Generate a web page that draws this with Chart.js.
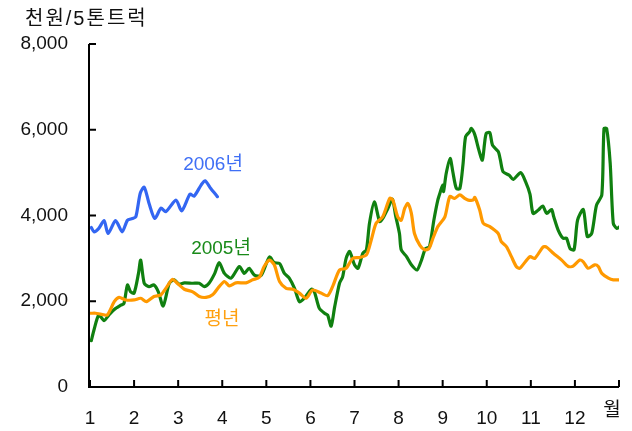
<!DOCTYPE html>
<html>
<head>
<meta charset="utf-8">
<script src="https://cdn.jsdelivr.net/npm/chart.js@4.4.1/dist/chart.umd.min.js"></script>
<style>
  html, body { margin: 0; padding: 0; background: #fff; }
  #wrap { width: 632px; height: 431px; }
</style>
</head>
<body>
<div id="wrap"><canvas id="chart"></canvas></div>
<script>
// 가격 데이터 (x = 월, y = 천원/5톤트럭)
const months2006 = [1.03, 1.09, 1.20, 1.32, 1.41, 1.58, 1.73, 1.85, 1.96, 2.04, 2.14, 2.23, 2.34, 2.47, 2.61, 2.72, 2.95, 3.08, 3.27, 3.36, 3.52, 3.61, 3.74, 3.89];
const values2006 = [3720, 3620, 3700, 3880, 3580, 3880, 3620, 3890, 3930, 3970, 4520, 4660, 4280, 3930, 4170, 4090, 4360, 4110, 4500, 4450, 4710, 4810, 4630, 4440];

const months2005 = [1.03, 1.09, 1.20, 1.32, 1.43, 1.55, 1.70, 1.77, 1.85, 1.92, 2.00, 2.10, 2.15, 2.23, 2.34, 2.45, 2.55, 2.66, 2.80, 2.91,
  3.02, 3.14, 3.33, 3.48, 3.59, 3.70, 3.83, 3.93, 4.05, 4.20, 4.39, 4.50, 4.61, 4.73, 4.88, 5.07, 5.18, 5.30, 5.41, 5.52,
  5.64, 5.75, 5.86, 6.02, 6.09, 6.20, 6.32, 6.39, 6.47, 6.55, 6.66, 6.73, 6.81, 6.89, 7.00, 7.08, 7.19, 7.27, 7.34, 7.45,
  7.57, 7.64, 7.76, 7.86, 7.93, 8.02, 8.06, 8.18, 8.29, 8.42, 8.52, 8.61, 8.70, 8.80, 8.89, 8.95, 9.00, 9.02, 9.08, 9.17,
  9.23, 9.31, 9.39, 9.46, 9.52, 9.61, 9.65, 9.73, 9.82, 9.90, 9.95, 9.99, 10.07, 10.13, 10.26, 10.31, 10.37, 10.51, 10.60, 10.77,
  10.88, 10.98, 11.05, 11.17, 11.27, 11.36, 11.47, 11.52, 11.62, 11.73, 11.81, 11.89, 11.98, 12.06, 12.19, 12.28, 12.38, 12.49, 12.61, 12.66,
  12.72, 12.80, 12.87, 12.95, 13.02];
const values2005 = [1080, 1330, 1680, 1550, 1680, 1810, 1910, 1950, 2380, 2220, 2190, 2650, 2960, 2420, 2340, 2380, 2220, 1890, 2420, 2500,
  2400, 2430, 2420, 2420, 2340, 2420, 2650, 2900, 2650, 2540, 2810, 2650, 2770, 2610, 2600, 3030, 2900, 2880, 2650, 2540,
  2300, 1990, 2070, 2280, 2220, 1840, 1720, 1680, 1420, 1870, 2420, 2570, 3000, 3160, 2850, 2770, 3120, 3200, 3820, 4320,
  3860, 3930, 4170, 4380, 4010, 3580, 3200, 3040, 2850, 2730, 2960, 3230, 3270, 3890, 4360, 4560, 4710, 4560, 4980, 5330,
  5020, 4630, 4630, 5180, 5840, 5950, 6030, 5880, 5530, 5290, 5680, 5920, 5930, 5640, 5490, 5290, 5020, 4940, 4840, 5000,
  4790, 4500, 4050, 4130, 4220, 4050, 4140, 3970, 3660, 3470, 3470, 3230, 3200, 3890, 4140, 3510, 3580, 4240, 4480, 6030,
  6030, 5220, 3820, 3700, 3740];

const monthsAvg = [1.02, 1.13, 1.24, 1.39, 1.55, 1.66, 1.81, 2.00, 2.15, 2.28, 2.45, 2.61, 2.72, 2.87, 2.98, 3.14, 3.33, 3.48, 3.63, 3.78,
  3.93, 4.05, 4.16, 4.31, 4.54, 4.69, 4.84, 4.95, 5.07, 5.18, 5.30, 5.45, 5.60, 5.75, 5.90, 6.05, 6.24, 6.39, 6.51, 6.66,
  6.81, 6.96, 7.11, 7.27, 7.38, 7.49, 7.64, 7.80, 7.87, 7.98, 8.06, 8.14, 8.21, 8.29, 8.36, 8.48, 8.59, 8.69, 8.78, 8.89,
  9.05, 9.16, 9.27, 9.39, 9.50, 9.58, 9.69, 9.73, 9.84, 9.92, 10.07, 10.26, 10.33, 10.45, 10.56, 10.67, 10.75, 10.98, 11.09, 11.28,
  11.36, 11.51, 11.70, 11.85, 11.96, 12.11, 12.19, 12.30, 12.45, 12.53, 12.61, 12.76, 12.87, 13.02];
const valuesAvg = [1720, 1720, 1700, 1680, 1990, 2090, 2030, 2030, 2070, 1990, 2110, 2150, 2300, 2510, 2420, 2280, 2220, 2110, 2090, 2150,
  2340, 2460, 2360, 2430, 2430, 2500, 2560, 2810, 2960, 2850, 2460, 2300, 2280, 2190, 2070, 2260, 2190, 2130, 2360, 2730,
  2770, 3000, 3020, 3080, 3430, 3820, 3970, 4400, 4360, 3970, 3890, 4170, 4280, 4050, 3580, 3310, 3200, 3230, 3470, 3740,
  3970, 4440, 4400, 4480, 4400, 4360, 4360, 4420, 4130, 3820, 3740, 3580, 3390, 3270, 3040, 2810, 2770, 3040, 3000, 3270,
  3260, 3120, 2960, 2810, 2820, 2960, 2920, 2770, 2850, 2810, 2650, 2540, 2500, 2500];

const monthTicks = [1, 2, 3, 4, 5, 6, 7, 8, 9, 10, 11, 12];
const yTicks = [0, 2000, 4000, 6000, 8000];

const FONT = "'Liberation Sans', 'Noto Sans CJK KR', sans-serif";

function toPoints(xs, ys) {
  return xs.map((x, i) => ({ x: x, y: ys[i] }));
}

// 축선, 안쪽 눈금, 주석 텍스트
const axisPlugin = {
  id: "axisPlugin",
  afterDraw(chart) {
    const ctx = chart.ctx;
    const xs = chart.scales.x, ys = chart.scales.y;
    const left = xs.getPixelForValue(1) - 1, bottom = ys.getPixelForValue(0);
    const top = ys.getPixelForValue(8000), right = xs.getPixelForValue(13);
    ctx.save();
    ctx.strokeStyle = "#000";
    ctx.lineWidth = 2;
    ctx.beginPath();
    ctx.moveTo(left, top);
    ctx.lineTo(left, bottom);
    ctx.lineTo(right, bottom);
    ctx.stroke();
    ctx.beginPath();
    yTicks.forEach(v => {
      const p = ys.getPixelForValue(v);
      ctx.moveTo(left, p);
      ctx.lineTo(left + 7, p);
    });
    monthTicks.concat([13]).forEach(m => {
      const p = xs.getPixelForValue(m);
      ctx.moveTo(p, bottom);
      ctx.lineTo(p, bottom - 7);
    });
    ctx.stroke();

    ctx.textBaseline = "middle";
    ctx.fillStyle = "#111";
    ctx.textAlign = "left";
    ctx.font = "20px " + FONT;
    ctx.letterSpacing = "2px";
    ctx.fillText("천원/5톤트럭", 25, 19);
    ctx.letterSpacing = "0px";
    ctx.textAlign = "center";
    ctx.font = "19px " + FONT;
    ctx.fillText("월", 612, 411);
    ctx.fillStyle = "#3f6ff5";
    ctx.fillText("2006년", 213, 165);
    ctx.fillStyle = "#198a19";
    ctx.fillText("2005년", 221, 249);
    ctx.fillStyle = "#ffa010";
    ctx.fillText("평년", 222, 320);
    ctx.restore();
  }
};

new Chart(document.getElementById("chart").getContext("2d"), {
  type: "line",
  data: {
    datasets: [
      { label: "평년", data: toPoints(monthsAvg, valuesAvg), borderColor: "#ff9900" },
      { label: "2005년", data: toPoints(months2005, values2005), borderColor: "#108010" },
      { label: "2006년", data: toPoints(months2006, values2006), borderColor: "#3366f2" }
    ]
  },
  options: {
    responsive: true,
    maintainAspectRatio: false,
    animation: false,
    layout: { padding: { top: 44, right: 13, left: 0, bottom: 0 } },
    elements: {
      point: { radius: 0 },
      line: { borderWidth: 3.2, tension: 0.25, borderJoinStyle: "round", borderCapStyle: "round" }
    },
    plugins: {
      legend: { display: false },
      tooltip: { enabled: false }
    },
    scales: {
      x: {
        type: "linear",
        min: 1,
        max: 13,
        afterFit: s => { s.height = 44; },
        afterBuildTicks: s => { s.ticks = monthTicks.map(v => ({ value: v })); },
        grid: { display: false, drawTicks: false },
        border: { display: false },
        ticks: {
          autoSkip: false,
          maxRotation: 0,
          padding: 20,
          color: "#111",
          font: { family: FONT, size: 19 }
        }
      },
      y: {
        min: 0,
        max: 8000,
        afterFit: s => { s.width = 90; },
        afterBuildTicks: s => { s.ticks = yTicks.map(v => ({ value: v })); },
        grid: { display: false, drawTicks: false },
        border: { display: false },
        ticks: {
          padding: 22,
          color: "#111",
          font: { family: FONT, size: 19 },
          callback: v => v.toLocaleString("en-US")
        }
      }
    }
  },
  plugins: [axisPlugin]
});
</script>
</body>
</html>
